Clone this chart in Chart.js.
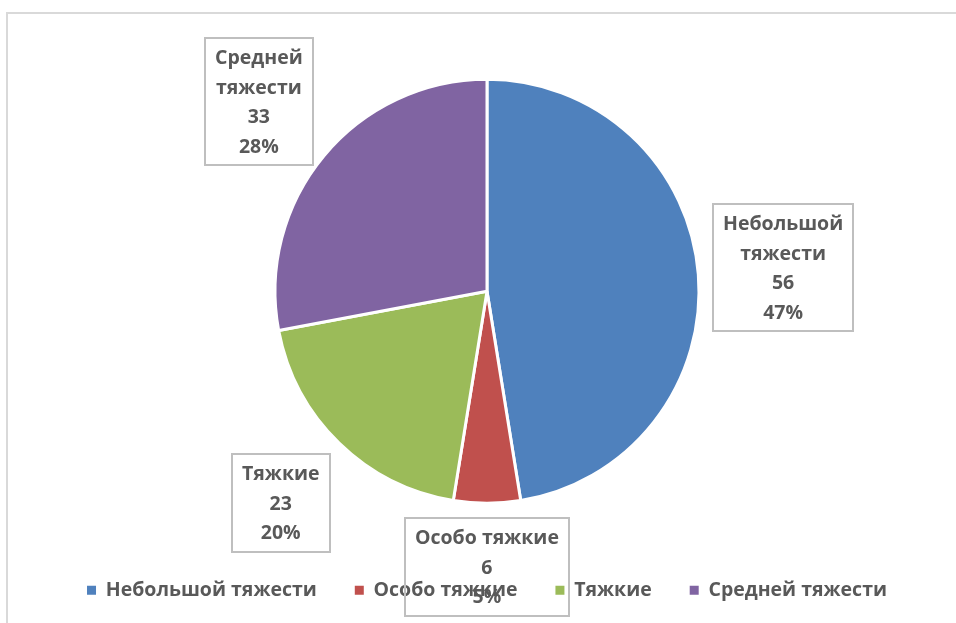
<!DOCTYPE html>
<html>
<head>
<meta charset="utf-8">
<script src="https://cdn.jsdelivr.net/npm/chart.js@4.4.1/dist/chart.umd.min.js"></script>
<style>
  html, body { margin: 0; padding: 0; background: #ffffff; }
  #wrap { width: 956px; height: 623px; position: relative; }
</style>
</head>
<body>
<div id="wrap"><canvas id="c" width="956" height="623"></canvas></div>
<script>
// ---- data ----
const categories = ['Небольшой тяжести', 'Особо тяжкие', 'Тяжкие', 'Средней тяжести'];
const values = [56, 6, 23, 33];
const percentLabels = ['47%', '5%', '20%', '28%'];
const labelNameLines = [['Небольшой', 'тяжести'], ['Особо тяжкие'], ['Тяжкие'], ['Средней', 'тяжести']];
const colors = ['#4F81BD', '#C0504D', '#9BBB59', '#8064A2'];

const FONT_FAMILY = '"Open Sans", "Noto Sans", "DejaVu Sans", sans-serif';
const TEXT_COLOR = '#595959';
const FONT_SIZE = 19.5;

const framePlugin = {
  id: 'frame',
  beforeDraw(chart) {
    const ctx = chart.ctx;
    ctx.save();
    ctx.strokeStyle = '#d9d9d9';
    ctx.lineWidth = 2;
    ctx.strokeRect(7, 13, 1000, 700);
    ctx.restore();
  }
};

const calloutPlugin = {
  id: 'callouts',
  afterDatasetsDraw(chart) {
    const ctx = chart.ctx;
    const meta = chart.getDatasetMeta(0);
    const lineH = 29.5;
    const padX = 10, padTop = 6, padBottom = 3;
    const gap = 15;
    ctx.save();
    ctx.font = 'bold ' + FONT_SIZE + 'px ' + FONT_FAMILY;
    meta.data.forEach((arc, i) => {
      const p = arc.getProps(['x', 'y', 'startAngle', 'endAngle', 'outerRadius'], true);
      const mid = (p.startAngle + p.endAngle) / 2;
      const dx = Math.cos(mid), dy = Math.sin(mid);
      const lines = labelNameLines[i].concat([String(values[i]), percentLabels[i]]);
      let tw = 0;
      lines.forEach(l => { tw = Math.max(tw, ctx.measureText(l).width); });
      const w = tw + 2 * padX;
      const h = lines.length * lineH + padTop + padBottom;
      const tx = Math.abs(dx) > 1e-6 ? (w / 2) / Math.abs(dx) : Infinity;
      const ty = Math.abs(dy) > 1e-6 ? (h / 2) / Math.abs(dy) : Infinity;
      const d = p.outerRadius + gap + Math.min(tx, ty);
      const cx = p.x + dx * d, cy = p.y + dy * d;
      const left = Math.round(cx - w / 2), top = Math.round(cy - h / 2);
      ctx.strokeStyle = '#bfbfbf';
      ctx.lineWidth = 2;
      ctx.strokeRect(left, top, Math.round(w), Math.round(h));
      ctx.fillStyle = TEXT_COLOR;
      ctx.textAlign = 'center';
      ctx.textBaseline = 'middle';
      lines.forEach((l, k) => {
        ctx.fillText(l, left + w / 2, top + padTop + lineH * k + lineH / 2);
      });
    });
    ctx.restore();
  }
};

new Chart(document.getElementById('c'), {
  type: 'pie',
  data: {
    labels: categories,
    datasets: [{
      data: values,
      backgroundColor: colors,
      borderColor: '#ffffff',
      borderWidth: 3,
      radius: 212
    }]
  },
  options: {
    responsive: false,
    animation: false,
    layout: { padding: { top: 40, bottom: 13, left: 18, right: 0 } },
    plugins: {
      tooltip: { enabled: false },
      legend: {
        position: 'bottom',
        labels: {
          boxWidth: 9,
          boxHeight: 9,
          padding: 38,
          color: TEXT_COLOR,
          font: { family: FONT_FAMILY, size: FONT_SIZE, weight: 'bold' },
          generateLabels(chart) {
            const items = Chart.overrides.pie.plugins.legend.labels.generateLabels(chart);
            items.forEach(it => { it.lineWidth = 0; it.strokeStyle = it.fillStyle; });
            return items;
          }
        }
      }
    }
  },
  plugins: [framePlugin, calloutPlugin]
});
</script>
</body>
</html>
